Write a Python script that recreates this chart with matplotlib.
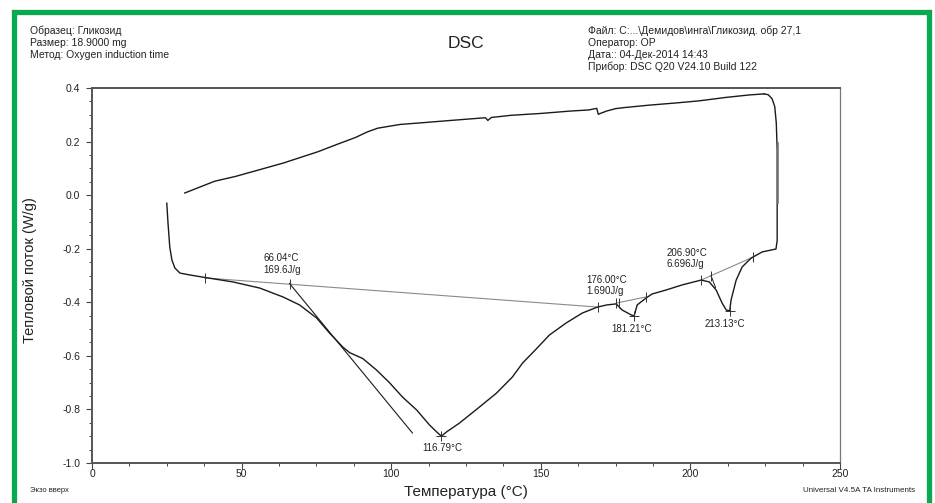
import matplotlib
matplotlib.use('Agg')
from matplotlib import pyplot as plt
from matplotlib.ticker import MultipleLocator
from matplotlib.patches import Rectangle

plt.rcParams['font.family'] = ['Liberation Sans', 'DejaVu Sans']
plt.rcParams['axes.unicode_minus'] = False

# heating run, left to right, then the rise at the end
heat_T = [25.0, 25.4, 26.0, 26.7, 27.7, 29.4, 32.7, 37.0, 47.1, 56.1, 63.8, 69.4,
          75.1, 79.4, 83.8, 86.1, 90.5, 95.1, 99.5, 103.8, 108.5, 112.8, 115.2,
          116.79, 118.5, 122.8, 129.5, 135.2, 140.5, 143.9, 148.5, 152.9, 158.5,
          163.9, 168.9, 172.0, 175.2, 177.2, 180.2, 181.21, 182.2, 185.2, 187.2,
          191.9, 197.3, 203.6, 206.3, 208.6, 210.6, 212.0, 213.13, 213.6, 215.3,
          217.3, 220.3, 224.0, 228.6, 229.0, 229.0, 228.7, 228.2, 227.3, 226.0,
          224.6]
heat_y = [-0.03, -0.104, -0.194, -0.242, -0.272, -0.291, -0.298, -0.306, -0.324,
          -0.347, -0.38, -0.41, -0.459, -0.515, -0.567, -0.588, -0.61, -0.653,
          -0.701, -0.754, -0.802, -0.858, -0.884, -0.90, -0.884, -0.851, -0.791,
          -0.739, -0.679, -0.627, -0.574, -0.522, -0.477, -0.44, -0.418, -0.41,
          -0.406, -0.429, -0.447, -0.451, -0.41, -0.384, -0.369, -0.354, -0.335,
          -0.317, -0.324, -0.354, -0.403, -0.429, -0.432, -0.391, -0.317, -0.268,
          -0.235, -0.212, -0.201, -0.17, 0.17, 0.27, 0.33, 0.36, 0.375, 0.378]

# upper part, going back to the left
top_T = [224.6, 219.6, 212.0, 202.9, 195.0, 186.2, 178.0, 175.0, 172.0, 169.2,
         168.7, 166.0, 160.0, 150.0, 140.0, 133.5, 132.3, 131.5, 120.0, 110.0,
         103.0, 95.5, 92.0, 88.0, 82.0, 75.5, 70.0, 64.0, 56.0, 48.0, 41.0, 36.0,
         31.0]
top_y = [0.378, 0.374, 0.365, 0.352, 0.344, 0.336, 0.327, 0.323, 0.314, 0.302,
         0.324, 0.318, 0.314, 0.305, 0.298, 0.29, 0.279, 0.289, 0.279, 0.27,
         0.264, 0.25, 0.236, 0.215, 0.19, 0.162, 0.142, 0.12, 0.095, 0.07, 0.052,
         0.03, 0.008]

extra_T = [229.3, 229.3]
extra_y = [0.195, -0.03]

# analysis baselines, tangent and markers
base1_T = [37.7, 169.2]
base1_y = [-0.309, -0.418]
tang_T = [66.04, 107.1]
tang_y = [-0.33, -0.888]
base2_T = [175.2, 185.2]
base2_y = [-0.403, -0.380]
base3_T = [203.6, 221.0]
base3_y = [-0.317, -0.231]
tang3_T = [206.9, 208.4]
tang3_y = [-0.301, -0.345]

mark_T = [37.7, 66.04, 169.2, 175.2, 176.0, 185.2, 203.6, 206.9, 221.0]
mark_y = [-0.309, -0.33, -0.418, -0.403, -0.402, -0.380, -0.317, -0.301, -0.231]
peak_T = [116.79, 181.21, 213.13]
peak_y = [-0.90, -0.451, -0.432]

x_ticks = [0, 50, 100, 150, 200, 250]
y_ticks = [0.4, 0.2, 0.0, -0.2, -0.4, -0.6, -0.8, -1.0]

W, H = 935, 503
fig = plt.figure(figsize=(W / 100, H / 100), dpi=100)
ax = fig.add_axes([92 / W, 1 - 463 / H, 748 / W, 375 / H])

ax.plot(base1_T, base1_y, color='#8a8a8a', lw=0.8)
ax.plot(base2_T, base2_y, color='#8a8a8a', lw=0.8)
ax.plot(base3_T, base3_y, color='#8a8a8a', lw=0.8)
ax.plot(heat_T, heat_y, color='#1a1a1a', lw=1.0)
ax.plot(top_T, top_y, color='#1a1a1a', lw=1.0)
ax.plot(extra_T, extra_y, color='#777777', lw=1.2)
ax.plot(tang_T, tang_y, color='#1a1a1a', lw=0.8)
ax.plot(tang3_T, tang3_y, color='#1a1a1a', lw=0.7)
ax.plot(mark_T, mark_y, ls='none', marker='|', ms=7, mew=0.7, color='#333333')
ax.plot(peak_T, peak_y, ls='none', marker='+', ms=7, mew=0.7, color='#333333')

ann = dict(fontsize=7, color='#222222', va='center')
ax.text(57.4, -0.235, '66.04°C', ha='left', **ann)
ax.text(57.4, -0.279, '169.6J/g', ha='left', **ann)
ax.text(117.2, -0.944, '116.79°C', ha='center', **ann)
ax.text(165.2, -0.317, '176.00°C', ha='left', **ann)
ax.text(165.2, -0.358, '1.690J/g', ha='left', **ann)
ax.text(180.2, -0.50, '181.21°C', ha='center', **ann)
ax.text(191.9, -0.216, '206.90°C', ha='left', **ann)
ax.text(191.9, -0.257, '6.696J/g', ha='left', **ann)
ax.text(211.6, -0.481, '213.13°C', ha='center', **ann)

ax.set_xlim(0, 250)
ax.set_ylim(-1.0, 0.4)
ax.set_xticks(x_ticks)
ax.set_xticklabels([str(t) for t in x_ticks])
ax.set_yticks(y_ticks)
ax.set_yticklabels(['%.1f' % t for t in y_ticks])
ax.xaxis.set_minor_locator(MultipleLocator(12.5))
ax.yaxis.set_minor_locator(MultipleLocator(0.05))
ax.tick_params(which='major', direction='out', length=4.5, width=0.8,
               color='#444444', labelsize=7.5, labelcolor='#222222')
ax.tick_params(which='minor', direction='out', length=2.2, width=0.7, color='#444444')
ax.tick_params(axis='x', which='major', length=4, pad=0)
ax.tick_params(axis='y', which='major', pad=4)
for side in ['left', 'bottom', 'top']:
    ax.spines[side].set_linewidth(1.4)
    ax.spines[side].set_color('#555555')
ax.spines['right'].set_linewidth(0.9)
ax.spines['right'].set_color('#777777')

txt = dict(fontsize=7.5, color='#222222', va='center', ha='left')
fig.text(30 / W, 1 - 31 / H, 'Образец: Гликозид', **txt)
fig.text(30 / W, 1 - 43 / H, 'Размер: 18.9000 mg', **txt)
fig.text(30 / W, 1 - 55 / H, 'Метод: Oxygen induction time', **txt)
fig.text(466 / W, 1 - 43 / H, 'DSC', fontsize=12.5, color='#222222', ha='center', va='center')
fig.text(588 / W, 1 - 31 / H, 'Файл: C:...\\Демидов\\инга\\Гликозид. обр 27,1', **txt)
fig.text(588 / W, 1 - 43 / H, 'Оператор: ОР', **txt)
fig.text(588 / W, 1 - 55 / H, 'Дата:: 04-Дек-2014 14:43', **txt)
fig.text(588 / W, 1 - 67 / H, 'Прибор: DSC Q20 V24.10 Build 122', **txt)

fig.text(30 / W, 1 - 270 / H, 'Тепловой поток (W/g)', fontsize=10.5, color='#222222',
         rotation=90, ha='center', va='center')
fig.text(466 / W, 1 - 492 / H, 'Температура (°C)', fontsize=11, color='#222222',
         ha='center', va='center')
fig.text(30 / W, 1 - 491 / H, 'Экзо вверх', fontsize=5.5, color='#222222',
         ha='left', va='center')
fig.text(915 / W, 1 - 490 / H, 'Universal V4.5A TA Instruments', fontsize=5.8,
         color='#222222', ha='right', va='center')

# green frame around the whole picture
fig.patches.append(Rectangle((13.5 / W, -0.05), 915 / W, 1.05 - 12 / H,
                             transform=fig.transFigure, fill=False,
                             edgecolor='#0aa84f', lw=3.8))

fig.savefig('out.png', dpi=100)
